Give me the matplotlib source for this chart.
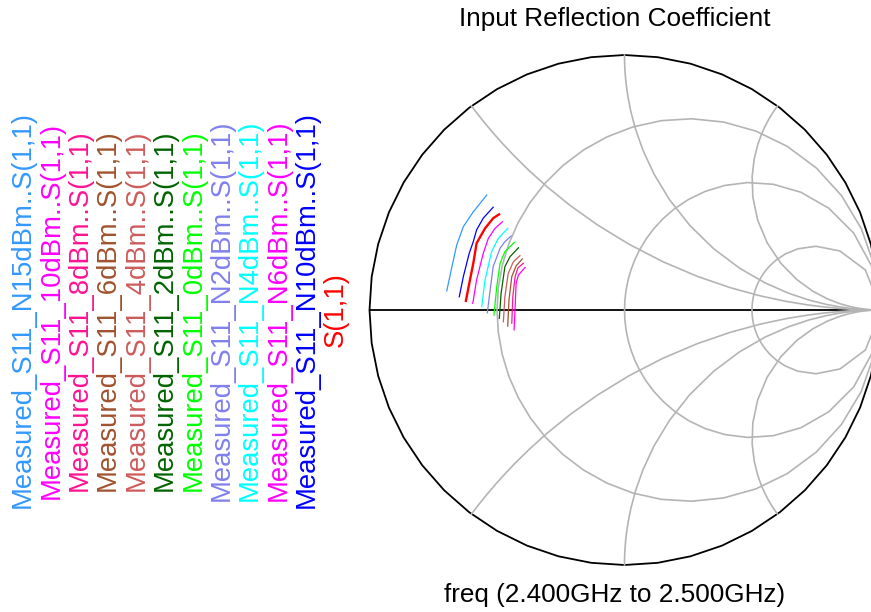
import numpy as np
import matplotlib
matplotlib.use("Agg")
import matplotlib.pyplot as plt

plt.rcParams['font.family'] = ['Liberation Sans', 'DejaVu Sans']

# reflection coefficient traces, 2.4 -> 2.5 GHz (real, imag)
labels = ["Measured_S11_N15dBm..S(1,1)", "Measured_S11_10dBm..S(1,1)",
          "Measured_S11_8dBm..S(1,1)", "Measured_S11_6dBm..S(1,1)",
          "Measured_S11_4dBm..S(1,1)", "Measured_S11_2dBm..S(1,1)",
          "Measured_S11_0dBm..S(1,1)", "Measured_S11_N2dBm..S(1,1)",
          "Measured_S11_N4dBm..S(1,1)", "Measured_S11_N6dBm..S(1,1)",
          "Measured_S11_N10dBm..S(1,1)", "S(1,1)"]
colors = ["#3399ff", "#ff00ff", "#ff1493", "#a0522d", "#cd5c5c", "#006400",
          "#00ff00", "#8080ee", "#00ffff", "#ff00ff", "#0000ff", "#ff0000"]

re_n15 = [-0.697, -0.678, -0.658, -0.632, -0.593, -0.540]
im_n15 = [0.075, 0.164, 0.255, 0.327, 0.385, 0.451]
re_10 = [-0.433, -0.429, -0.425, -0.416, -0.390]
im_10 = [-0.078, 0.008, 0.105, 0.137, 0.167]
re_8 = [-0.442, -0.438, -0.429, -0.418, -0.397]
im_8 = [-0.052, 0.052, 0.131, 0.165, 0.183]
re_6 = [-0.458, -0.453, -0.442, -0.425, -0.401]
im_6 = [-0.063, 0.039, 0.131, 0.173, 0.200]
re_4 = [-0.475, -0.469, -0.456, -0.436, -0.410]
im_4 = [-0.046, 0.052, 0.144, 0.189, 0.213]
re_2 = [-0.491, -0.484, -0.469, -0.449, -0.416]
im_2 = [-0.033, 0.065, 0.170, 0.209, 0.244]
re_0 = [-0.512, -0.501, -0.488, -0.469, -0.432]
im_0 = [-0.020, 0.091, 0.183, 0.229, 0.265]
re_n2 = [-0.538, -0.527, -0.515, -0.488, -0.469, -0.445]
im_n2 = [-0.011, 0.078, 0.170, 0.242, 0.268, 0.290]
re_n4 = [-0.560, -0.547, -0.521, -0.495, -0.458]
im_n4 = [0.013, 0.118, 0.229, 0.281, 0.320]
re_n6 = [-0.595, -0.580, -0.554, -0.534, -0.508, -0.479]
im_n6 = [0.026, 0.118, 0.222, 0.281, 0.320, 0.346]
re_n10 = [-0.648, -0.632, -0.609, -0.593, -0.580, -0.554, -0.515]
im_n10 = [0.052, 0.131, 0.222, 0.268, 0.314, 0.360, 0.403]
re_sim = [-0.622, -0.606, -0.593, -0.580, -0.547, -0.515, -0.492]
im_sim = [0.036, 0.118, 0.183, 0.262, 0.320, 0.360, 0.375]

traces = [(re_n15, im_n15), (re_10, im_10), (re_8, im_8), (re_6, im_6),
          (re_4, im_4), (re_2, im_2), (re_0, im_0), (re_n2, im_n2),
          (re_n4, im_n4), (re_n6, im_n6), (re_n10, im_n10), (re_sim, im_sim)]

r_grid = [1/3, 1, 3]
x_grid = [0.5, 1, 2]

W, H = 871, 612
cx, cy, R = 624.5, 310, 255

fig = plt.figure(figsize=(W/100, H/100), dpi=100)
ax = fig.add_axes([0, 0, 1, 1])
ax.set_xlim(-cx/R, (W - cx)/R)
ax.set_ylim((cy - H)/R, cy/R)
ax.axis('off')

# outer boundary + real axis
t = np.linspace(0, 2*np.pi, 49)
ax.plot(np.cos(t), np.sin(t), color='black', lw=1.3, zorder=1)
ax.plot([-1, 1], [0, 0], color='black', lw=1.3, zorder=1)

grid_kw = dict(color='#b4b4b4', lw=1.2, zorder=2)
# constant resistance circles
for r in r_grid:
    xx = np.tan(np.linspace(-np.pi/2 + 0.01, np.pi/2 - 0.01, 41))
    g = (r + 1j*xx - 1)/(r + 1j*xx + 1)
    g = np.append(g, 1 + 0j)
    ax.plot(g.real, g.imag, **grid_kw)
# constant reactance arcs
for x in x_grid:
    for s in (1, -1):
        rr = np.concatenate([[0], np.geomspace(0.02, 200, 30)])
        g = (rr + 1j*s*x - 1)/(rr + 1j*s*x + 1)
        g = np.append(g, 1 + 0j)
        ax.plot(g.real, g.imag, **grid_kw)

for (re, im), c, lab in zip(traces, colors, labels):
    lw = 1.7 if lab == "S(1,1)" else 0.9
    ax.plot(re, im, color=c, lw=lw, zorder=3)

# titles
fig.text(615/W, 1 - 19/H, "Input Reflection Coefficient", ha='center',
         va='center', fontsize=18.8)
fig.text(615/W, 1 - 595/H, "freq (2.400GHz to 2.500GHz)", ha='center',
         va='center', fontsize=18.8)

# vertical legend
for i, (lab, c) in enumerate(zip(labels, colors)):
    fig.text((23 + 28.4*i)/W, 1 - cy/H, lab, rotation=90, ha='center',
             va='center', color=c, fontsize=19.8)

fig.savefig("out.png", dpi=100)
